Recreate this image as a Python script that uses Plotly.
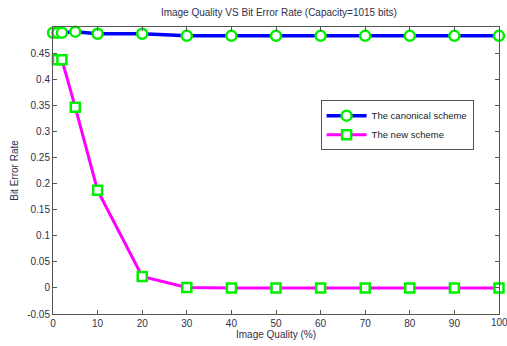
import plotly.graph_objects as go

quality_canonical = [0, 1, 2, 5, 10, 20, 30, 40, 50, 60, 70, 80, 90, 100]
ber_canonical = [0.489, 0.489, 0.489, 0.491, 0.487, 0.487, 0.483, 0.483, 0.483, 0.483, 0.483, 0.483, 0.483, 0.483]
quality_new = [1, 2, 5, 10, 20, 30, 40, 50, 60, 70, 80, 90, 100]
ber_new = [0.437, 0.437, 0.346, 0.187, 0.022, 0.001, 0.0, 0.0, 0.0, 0.0, 0.0, 0.0, 0.0]

x_ticks = [0, 10, 20, 30, 40, 50, 60, 70, 80, 90, 100]
x_tick_labels = ["0", "10", "20", "30", "40", "50", "60", "70", "80", "90", "100"]
y_ticks = [-0.05, 0, 0.05, 0.1, 0.15, 0.2, 0.25, 0.3, 0.35, 0.4, 0.45]
y_tick_labels = ["-0.05", "0", "0.05", "0.1", "0.15", "0.2", "0.25", "0.3", "0.35", "0.4", "0.45"]

font = "Liberation Sans, Arial, sans-serif"
txt = "#30304a"

fig = go.Figure()
fig.add_trace(go.Scatter(
    x=quality_canonical, y=ber_canonical, mode="lines+markers",
    name="The canonical scheme",
    line=dict(color="#0000ff", width=3.5),
    marker=dict(symbol="circle", size=10, color="white", line=dict(color="#00ee00", width=2.5)),
    cliponaxis=False,
))
fig.add_trace(go.Scatter(
    x=quality_new, y=ber_new, mode="lines+markers",
    name="The new scheme",
    line=dict(color="#ff00ff", width=3),
    marker=dict(symbol="square", size=9, color="white", line=dict(color="#00ee00", width=2.5)),
    cliponaxis=False,
))

axis_common = dict(
    showgrid=False, zeroline=False, showline=True, mirror="ticks",
    linecolor="#555555", linewidth=1, ticks="inside", ticklen=4,
    tickcolor="#555555", tickfont=dict(family=font, size=10, color=txt),
    automargin=False,
)
# last x label drawn as annotation so it can run off the edge like the original
shown_x_labels = x_tick_labels[:-1] + [""]
fig.update_xaxes(range=[0, 100], tickvals=x_ticks, ticktext=shown_x_labels,
                 title=dict(text="Image Quality (%)", font=dict(family=font, size=10, color=txt), standoff=2),
                 **axis_common)
fig.update_yaxes(range=[-0.05, 0.5], tickvals=y_ticks, ticktext=y_tick_labels,
                 title=dict(text="Bit Error Rate", font=dict(family=font, size=10, color=txt), standoff=6),
                 **axis_common)
fig.add_annotation(x=x_ticks[-1], y=0, xref="x", yref="paper", yanchor="top", xanchor="center",
                   text=x_tick_labels[-1], showarrow=False, yshift=-1,
                   font=dict(family=font, size=10, color=txt))

fig.update_layout(
    width=507, height=346,
    margin=dict(l=53, r=8, t=27, b=32),
    paper_bgcolor="white", plot_bgcolor="white",
    title=dict(text="Image Quality VS Bit Error Rate (Capacity=1015 bits)",
               font=dict(family=font, size=10, color=txt), x=0.55, xanchor="center", y=0.975, yanchor="top"),
    legend=dict(x=0.6, y=0.745, xanchor="left", yanchor="top",
                bgcolor="white", bordercolor="#555555", borderwidth=1,
                font=dict(family=font, size=9.5, color="#222222"),
                tracegroupgap=0, itemwidth=40),
    showlegend=True,
)

fig.write_html("out.html")
